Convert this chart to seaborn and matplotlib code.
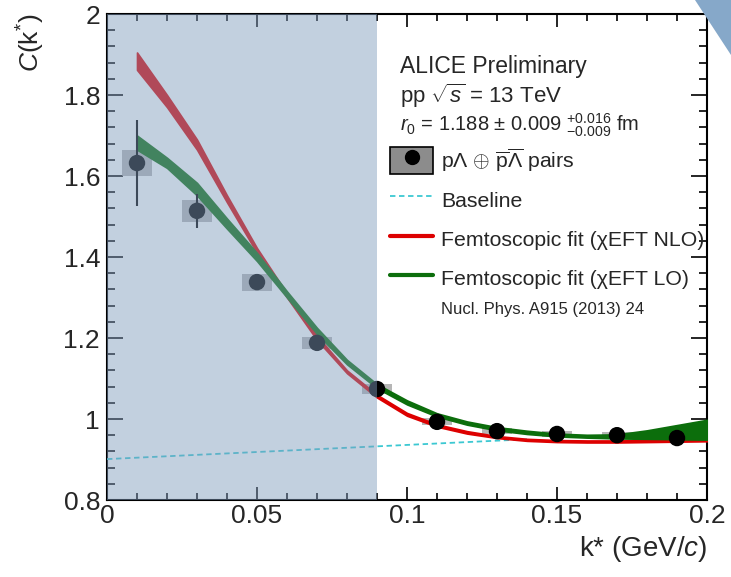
import numpy as np
import matplotlib
matplotlib.use("Agg")
import matplotlib.pyplot as plt
import seaborn as sns
from matplotlib.patches import Patch, Polygon
from matplotlib.lines import Line2D
from matplotlib.legend_handler import HandlerTuple
from matplotlib.ticker import MultipleLocator

# data
k_data = [0.01, 0.03, 0.05, 0.07, 0.09, 0.11, 0.13, 0.15, 0.17, 0.19]
c_data = [1.632, 1.514, 1.338, 1.188, 1.074, 0.993, 0.970, 0.963, 0.960, 0.953]
c_stat = [0.107, 0.042, 0.018, 0.010, 0.008, 0.006, 0.005, 0.005, 0.005, 0.005]
c_syst = [0.031, 0.027, 0.021, 0.015, 0.012, 0.009, 0.008, 0.008, 0.008, 0.008]

k_fit = [0.01, 0.02, 0.03, 0.04, 0.05, 0.06, 0.07, 0.08, 0.09, 0.10,
         0.11, 0.12, 0.13, 0.14, 0.15, 0.16, 0.17, 0.18, 0.19, 0.20]
nlo_lo = [1.862, 1.770, 1.665, 1.535, 1.410, 1.300, 1.195, 1.113, 1.053, 1.008,
          0.981, 0.964, 0.953, 0.946, 0.943, 0.942, 0.942, 0.943, 0.944, 0.945]
nlo_hi = [1.905, 1.800, 1.690, 1.552, 1.422, 1.310, 1.205, 1.120, 1.060, 1.015,
          0.987, 0.970, 0.958, 0.951, 0.948, 0.947, 0.947, 0.948, 0.949, 0.950]
lo_lo = [1.665, 1.620, 1.552, 1.470, 1.390, 1.300, 1.210, 1.135, 1.076, 1.036,
         1.006, 0.986, 0.972, 0.963, 0.957, 0.954, 0.952, 0.951, 0.950, 0.949]
lo_hi = [1.700, 1.645, 1.583, 1.495, 1.410, 1.315, 1.225, 1.146, 1.086, 1.046,
         1.014, 0.994, 0.980, 0.971, 0.964, 0.961, 0.962, 0.972, 0.985, 0.998]

k_base = [0.0, 0.14]
c_base = [0.901, 0.950]

sns.set_theme(style="ticks")
plt.rcParams['font.family'] = ['Liberation Sans', 'DejaVu Sans']
plt.rcParams['mathtext.fontset'] = 'custom'
plt.rcParams['mathtext.rm'] = 'Liberation Sans'
plt.rcParams['mathtext.it'] = 'Liberation Sans:italic'
plt.rcParams['mathtext.sf'] = 'Liberation Sans'

fig = plt.figure(figsize=(7.31, 5.77), dpi=100)
ax = fig.add_axes([107 / 731, 77 / 577, 600 / 731, 486 / 577])

red = "#dd0000"
green = "#0c6e0c"
cyan = "#3cc8d2"

# systematic boxes
ax.bar(k_data, height=[2 * s for s in c_syst], bottom=[c - s for c, s in zip(c_data, c_syst)],
       width=0.01, color="0.62", alpha=0.75, linewidth=0, zorder=2)

# baseline
sns.lineplot(x=k_base, y=c_base, ax=ax, color=cyan, lw=1.3,
             linestyle=(0, (3, 2)), zorder=3)

# fit bands
ax.fill_between(k_fit, nlo_lo, nlo_hi, color=red, lw=1.2, edgecolor=red, zorder=4)
ax.fill_between(k_fit, lo_lo, lo_hi, color=green, lw=1.2, edgecolor=green, zorder=5)

# data points
ax.errorbar(k_data, c_data, yerr=c_stat, fmt="none", ecolor="black", elinewidth=1.5, zorder=6)
sns.scatterplot(x=k_data, y=c_data, ax=ax, color="black", s=140, edgecolor="none", zorder=7)

# excluded fit region
ax.axvspan(0, 0.09, color="#809cbd", alpha=0.475, lw=0, zorder=8)

ax.set_xlim(0, 0.2)
ax.set_ylim(0.8, 2.0)
ax.xaxis.set_minor_locator(MultipleLocator(0.01))
ax.yaxis.set_minor_locator(MultipleLocator(0.04))
ax.set_xticks([0, 0.05, 0.1, 0.15, 0.2])
ax.set_xticklabels(["0", "0.05", "0.1", "0.15", "0.2"])
ax.set_yticks([0.8, 1.0, 1.2, 1.4, 1.6, 1.8, 2.0])
ax.set_yticklabels(["0.8", "1", "1.2", "1.4", "1.6", "1.8", "2"])
ax.tick_params(axis="both", which="both", direction="in", top=True, right=True,
               color="black", labelsize=19, width=1.2)
ax.tick_params(axis="x", which="major", length=9.5, pad=3)
ax.tick_params(axis="x", which="minor", length=5)
ax.tick_params(axis="y", which="major", length=11.5, pad=5)
ax.tick_params(axis="y", which="minor", length=6)
for sp in ax.spines.values():
    sp.set_color("black")
    sp.set_linewidth(1.5)
ax.grid(False)

ax.set_xlabel(r"k* (GeV/$c$)", fontsize=20, loc="right", labelpad=4)
ax.set_ylabel(r"$C$(k$^{*}$)", fontsize=19, loc="top", labelpad=12)

# annotations
ax.text(0.488, 0.892, "ALICE Preliminary", transform=ax.transAxes, fontsize=16.5, va="center")
ax.text(0.488, 0.832, r"pp $\sqrt{s}$ = 13 TeV", transform=ax.transAxes, fontsize=16, va="center")
ax.text(0.488, 0.770, r"$r_0$ = 1.188 ± 0.009 $^{+0.016}_{-0.009}$ fm",
        transform=ax.transAxes, fontsize=14.5, va="center")
ax.text(0.557, 0.393, "Nucl. Phys. A915 (2013) 24", transform=ax.transAxes,
        fontsize=12, va="center")

h_data = (Patch(facecolor="0.55", edgecolor="black", lw=1.2),
          Line2D([], [], marker="o", color="black", ls="none", markersize=10))
h_base = Line2D([], [], color=cyan, lw=1.3, linestyle=(0, (3, 2)))
h_nlo = Line2D([], [], color=red, lw=3)
h_lo = Line2D([], [], color=green, lw=3)
ax.legend([h_data, h_base, h_nlo, h_lo],
          [r"p$\Lambda$ $\oplus$ $\overline{\mathrm{p}}\overline{\Lambda}$ pairs",
           "Baseline", "Femtoscopic fit (χEFT NLO)", "Femtoscopic fit (χEFT LO)"],
          handler_map={tuple: HandlerTuple(ndivide=1, pad=0)},
          loc="upper left", bbox_to_anchor=(0.472, 0.728), frameon=False,
          fontsize=15.3, handlelength=2.03, handleheight=1.6, handletextpad=0.35,
          labelspacing=0.56, borderpad=0, borderaxespad=0)

# corner decoration
fig.add_artist(Polygon([[695 / 731, 1.0], [1.0, 1.0], [1.0, 1 - 55 / 577]],
                       closed=True, transform=fig.transFigure, color="#86a8c9", lw=0))

plt.savefig("out.png", dpi=100)
